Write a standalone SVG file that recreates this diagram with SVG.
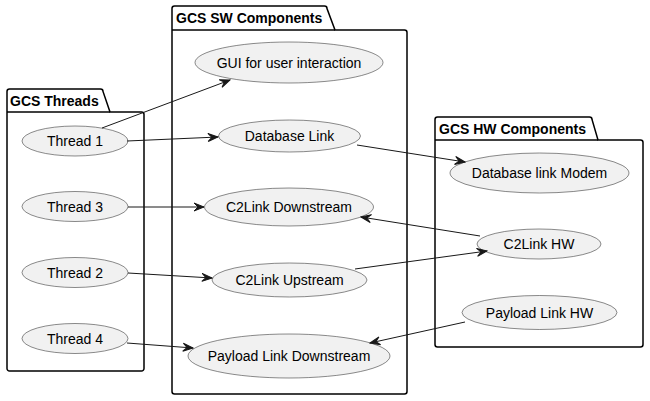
<svg xmlns="http://www.w3.org/2000/svg" width="650" height="401" viewBox="0 0 650 401">
<defs>
<style>
.pkg{fill:#FFFFFF;stroke:#000000;stroke-width:1.5}
.tab{fill:none;stroke:#000000;stroke-width:1.5}
.ptitle{font-family:"Liberation Sans",Arial,sans-serif;font-size:14px;font-weight:bold;fill:#000000}
.uc{fill:#F1F1F1;stroke:#181818;stroke-width:0.5}
.ul{font-family:"Liberation Sans",Arial,sans-serif;font-size:14px;fill:#000000;text-anchor:middle}
.edge{fill:none;stroke:#181818;stroke-width:1}
</style>
<marker id="arr" viewBox="-11 -5 12 10" refX="0" refY="0" markerWidth="12" markerHeight="10" markerUnits="userSpaceOnUse" orient="auto">
<path d="M0,0 L-10,-4 L-6,0 L-10,4 Z" fill="#181818" stroke="#181818" stroke-width="1"/>
</marker>
</defs>
<rect width="650" height="401" fill="#FFFFFF"/>

<g id="pkg-threads">
<path class="pkg" d="M9.5,89 L100.5,89 A2.5,2.5 0 0 1 103,91.5 L110,112 L141.5,112 A2.5,2.5 0 0 1 144,114.5 L144,368.5 A2.5,2.5 0 0 1 141.5,371 L9.5,371 A2.5,2.5 0 0 1 7,368.5 L7,91.5 A2.5,2.5 0 0 1 9.5,89 Z"/>
<line class="tab" x1="7" y1="112" x2="110" y2="112"/>
<text class="ptitle" x="10" y="106">GCS Threads</text>
</g>
<g id="pkg-sw">
<path class="pkg" d="M174.5,6 L324.5,6 A2.5,2.5 0 0 1 327,8.5 L335,30 L404.5,30 A2.5,2.5 0 0 1 407,32.5 L407,391.5 A2.5,2.5 0 0 1 404.5,394 L174.5,394 A2.5,2.5 0 0 1 172,391.5 L172,8.5 A2.5,2.5 0 0 1 174.5,6 Z"/>
<line class="tab" x1="172" y1="30" x2="335" y2="30"/>
<text class="ptitle" x="176" y="23">GCS SW Components</text>
</g>
<g id="pkg-hw">
<path class="pkg" d="M437.5,117 L589.5,117 A2.5,2.5 0 0 1 592,119.5 L598,140 L640.5,140 A2.5,2.5 0 0 1 643,142.5 L643,344.5 A2.5,2.5 0 0 1 640.5,347 L437.5,347 A2.5,2.5 0 0 1 435,344.5 L435,119.5 A2.5,2.5 0 0 1 437.5,117 Z"/>
<line class="tab" x1="435" y1="140" x2="598" y2="140"/>
<text class="ptitle" x="439" y="134">GCS HW Components</text>
</g>

<g id="thread1"><ellipse class="uc" cx="75" cy="141" rx="53" ry="15"/><text class="ul" x="75" y="146">Thread 1</text></g>
<g id="thread3"><ellipse class="uc" cx="75" cy="206.5" rx="53" ry="15"/><text class="ul" x="75" y="211.5">Thread 3</text></g>
<g id="thread2"><ellipse class="uc" cx="75" cy="272.5" rx="53" ry="15"/><text class="ul" x="75" y="277.5">Thread 2</text></g>
<g id="thread4"><ellipse class="uc" cx="75" cy="338.5" rx="53" ry="15"/><text class="ul" x="75" y="343.5">Thread 4</text></g>

<g id="gui"><ellipse class="uc" cx="289" cy="62.5" rx="94" ry="20.5"/><text class="ul" x="289" y="67.5">GUI for user interaction</text></g>
<g id="dblink"><ellipse class="uc" cx="289.5" cy="136" rx="71" ry="16"/><text class="ul" x="289.5" y="141">Database Link</text></g>
<g id="c2down"><ellipse class="uc" cx="289" cy="207" rx="84.5" ry="19"/><text class="ul" x="289" y="212">C2Link Downstream</text></g>
<g id="c2up"><ellipse class="uc" cx="289.5" cy="280" rx="77.5" ry="17"/><text class="ul" x="289.5" y="285">C2Link Upstream</text></g>
<g id="pldown"><ellipse class="uc" cx="289" cy="356" rx="101" ry="22"/><text class="ul" x="289" y="361">Payload Link Downstream</text></g>

<g id="dbmodem"><ellipse class="uc" cx="539.5" cy="173" rx="89.5" ry="20"/><text class="ul" x="539.5" y="178">Database link Modem</text></g>
<g id="c2hw"><ellipse class="uc" cx="539" cy="244" rx="62" ry="15"/><text class="ul" x="539" y="249">C2Link HW</text></g>
<g id="plhw"><ellipse class="uc" cx="539.5" cy="312.5" rx="77.5" ry="17"/><text class="ul" x="539.5" y="317.5">Payload Link HW</text></g>

<g id="connectors">
<path class="edge" marker-end="url(#arr)" d="M102,128 L230,80"/>
<path class="edge" marker-end="url(#arr)" d="M127,141 L218,137"/>
<path class="edge" marker-end="url(#arr)" d="M128,207 L204,207"/>
<path class="edge" marker-end="url(#arr)" d="M128,273 L212,278"/>
<path class="edge" marker-end="url(#arr)" d="M127,343 L193,348"/>
<path class="edge" marker-end="url(#arr)" d="M357,145 L465,162"/>
<path class="edge" marker-end="url(#arr)" d="M480,236 L361,217"/>
<path class="edge" marker-end="url(#arr)" d="M355,269 L487,251"/>
<path class="edge" marker-end="url(#arr)" d="M465,322 L370,343"/>
</g>
</svg>
